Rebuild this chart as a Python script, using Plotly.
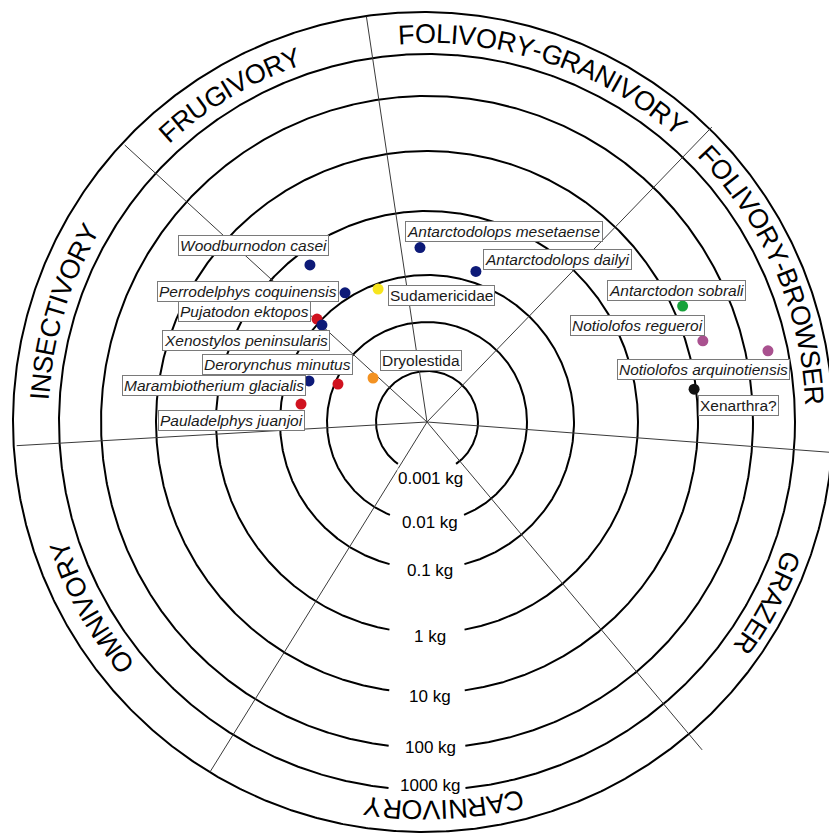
import numpy as np
import plotly.graph_objects as go

# ---------------- data ----------------
ring_labels = ["0.001 kg", "0.01 kg", "0.1 kg", "1 kg", "10 kg", "100 kg", "1000 kg"]
ring_log_mass = [-3, -2, -1, 0, 1, 2, 3]

diet_names = ["INSECTIVORY", "FRUGIVORY", "FOLIVORY-GRANIVORY", "FOLIVORY-BROWSER",
              "GRAZER", "CARNIVORY", "OMNIVORY"]

species = ["Woodburnodon casei", "Antarctodolops mesetaense", "Antarctodolops dailyi",
           "Perrodelphys coquinensis", "Sudamericidae", "Pujatodon ektopos",
           "Xenostylos peninsularis", "Dryolestida", "Derorynchus minutus",
           "Marambiotherium glacialis", "Pauladelphys juanjoi", "Antarctodon sobrali",
           "Notiolofos regueroi", "Notiolofos arquinotiensis", "Xenarthra?"]
species_mass_kg = [0.58, 0.27, 0.15, 0.124, 0.077, 0.114, 0.082, 0.0024, 0.0086,
                   0.034, 0.038, 15, 20, 340, 9.3]
species_diet_angle = [126.7, 92.3, 72.0, 122.4, 110.2, 136.9, 137.3, 140.8, 156.9,
                      160.8, 171.9, 24.4, 16.4, 11.8, 7.0]
species_group = ["metatherian", "metatherian", "metatherian", "metatherian", "gondwanathere",
                 "microbiothere", "metatherian", "dryolestid", "microbiothere",
                 "metatherian", "microbiothere", "astrapothere", "litoptern", "litoptern",
                 "xenarthran"]
italic_name = [True, True, True, True, False, True, True, False, True, True, True,
               True, True, True, False]

# ---------------- layout / style ----------------
ring_radius = [51, 100, 147, 211, 271, 326, 368]
outer_radius = 410
outer_center = (-4, 0)
divider_angles = [183.3, 137.5, 98.5, 46.0, -4.3, -50.0, 238.2]
divider_lengths = [411, 410, 410, 410, 412, 428, 412]
diet_center_angle = [163.2, 121.0, 71.5, 23.5, -28.0, -87.5, 208.9]
group_colors = {"metatherian": "#0d1a78", "microbiothere": "#d0121f", "gondwanathere": "#f7e51e",
                "dryolestid": "#f39222", "astrapothere": "#17a23b", "litoptern": "#a9518f",
                "xenarthran": "#111111"}
label_pos = {
    "Woodburnodon casei": (-249, 177), "Antarctodolops mesetaense": (-22, 191),
    "Antarctodolops dailyi": (56, 163), "Perrodelphys coquinensis": (-270, 131),
    "Sudamericidae": (-39, 127), "Pujatodon ektopos": (-249, 110.5),
    "Xenostylos peninsularis": (-265, 81.5), "Dryolestida": (-47, 62),
    "Derorynchus minutus": (-225, 57.5), "Marambiotherium glacialis": (-305, 37),
    "Pauladelphys juanjoi": (-269, 2), "Antarctodon sobrali": (180, 132),
    "Notiolofos regueroi": (143, 97), "Notiolofos arquinotiensis": (190, 52.5),
    "Xenarthra?": (271, 16.5),
}
FONT = "Liberation Sans, Arial, sans-serif"

fig = go.Figure()

# rings with gaps for the labels
xs, ys = [], []
t = np.radians(np.linspace(0, 360, 1441))
for r in ring_radius:
    gap = 29 if r < 60 else 37
    x = r * np.cos(t)
    y = r * np.sin(t)
    mask = (np.abs(x) < gap) & (y < 0)
    x = np.where(mask, np.nan, x)
    y = np.where(mask, np.nan, y)
    xs += list(x) + [None]
    ys += list(y) + [None]
xs += list(outer_center[0] + outer_radius * np.cos(t))
ys += list(outer_center[1] + outer_radius * np.sin(t))
fig.add_trace(go.Scatter(x=xs, y=ys, mode="lines", line=dict(color="black", width=2),
                         hoverinfo="skip", connectgaps=False))

# divider lines
dx, dy = [], []
for a, L in zip(divider_angles, divider_lengths):
    ar = np.radians(a)
    dx += [0, L * np.cos(ar), None]
    dy += [0, L * np.sin(ar), None]
fig.add_trace(go.Scatter(x=dx, y=dy, mode="lines", line=dict(color="#3a3a3a", width=1),
                         hoverinfo="skip"))

# species points
ring_nodes_log = [-4] + ring_log_mass
ring_nodes_r = [0] + ring_radius
sp_r = np.interp(np.log10(species_mass_kg), ring_nodes_log, ring_nodes_r)
sp_t = np.radians(species_diet_angle)
fig.add_trace(go.Scatter(x=sp_r * np.cos(sp_t), y=sp_r * np.sin(sp_t), mode="markers",
                         marker=dict(size=11, color=[group_colors[g] for g in species_group],
                                     line=dict(width=0)),
                         text=species, hoverinfo="text"))

annotations = []
# species labels
for name, it in zip(species, italic_name):
    lx, ly = label_pos[name]
    annotations.append(dict(x=lx, y=ly, xanchor="left", yanchor="middle",
                            text=f"<i>{name}</i>" if it else name, showarrow=False,
                            font=dict(family=FONT, size=15.5, color="#1a1a1a"),
                            bgcolor="white", bordercolor="#7a7a7a", borderwidth=1, borderpad=1))

# ring labels
ring_label_y = [-56, -100, -148, -214, -274, -325, -363]
for lab, yy in zip(ring_labels, ring_label_y):
    annotations.append(dict(x=3, y=yy, text=lab, showarrow=False, xanchor="center",
                            yanchor="middle", font=dict(family=FONT, size=17, color="black"),
                            bgcolor="white", borderpad=0))

# category text along the outer ring
W = {"A": .667, "B": .667, "C": .722, "D": .722, "E": .667, "F": .611, "G": .778,
     "H": .722, "I": .278, "J": .5, "K": .667, "L": .556, "M": .833, "N": .722,
     "O": .778, "P": .667, "Q": .778, "R": .722, "S": .667, "T": .611, "U": .722,
     "V": .667, "W": .944, "X": .667, "Y": .667, "Z": .611, "-": .333}
R_TXT = 388
FS = 27
for name, ang in zip(diet_names, diet_center_angle):
    widths = [W[c] * FS for c in name]
    total = sum(widths)
    start = ang + np.degrees(total / 2 / R_TXT)
    cum = 0.0
    for c, w in zip(name, widths):
        th = start - np.degrees((cum + w / 2) / R_TXT)
        cum += w
        rot = ((90 - th + 180) % 360) - 180
        annotations.append(dict(x=R_TXT * np.cos(np.radians(th)), y=R_TXT * np.sin(np.radians(th)),
                                text=c, textangle=rot, showarrow=False, xanchor="center",
                                yanchor="middle", font=dict(family=FONT, size=FS, color="black")))

fig.update_layout(
    width=829, height=835, margin=dict(l=0, r=0, t=0, b=0),
    paper_bgcolor="white", plot_bgcolor="white", showlegend=False,
    xaxis=dict(range=[-427, 402], visible=False, fixedrange=True),
    yaxis=dict(range=[-413, 422], visible=False, fixedrange=True),
    annotations=annotations,
)
fig.write_html("out.html")
